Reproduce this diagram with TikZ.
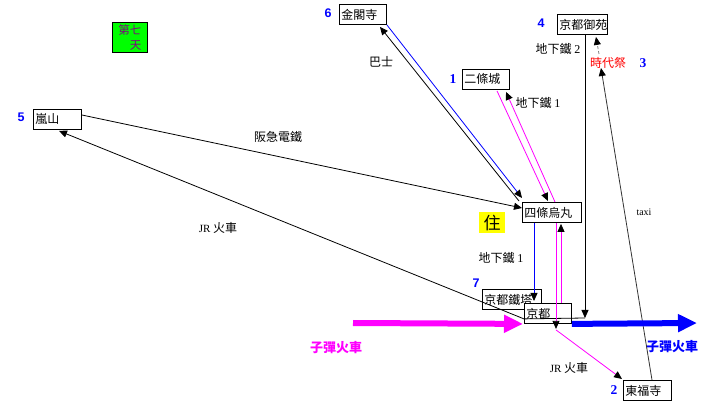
\documentclass[tikz,border=0pt]{standalone}
\usepackage{fontspec}
\setmainfont{Liberation Serif}
\newfontfamily\cjk{Noto Sans CJK TC}
\newfontfamily\numsans{Liberation Sans}
\usetikzlibrary{arrows.meta,calc}
\definecolor{mag}{RGB}{255,0,255}
\definecolor{pureblue}{RGB}{0,0,255}
\definecolor{puregreen}{RGB}{0,255,0}
\definecolor{purp}{RGB}{128,0,128}
\definecolor{pyellow}{RGB}{255,255,0}
\begin{document}
\begin{tikzpicture}[x=1pt,y=-1pt,
  box/.style={draw=black,fill=white,line width=0.9pt,anchor=north west,inner xsep=2pt,inner ysep=0pt,minimum height=20pt,align=left,font=\cjk\fontsize{12}{14}\selectfont},
  lbl/.style={font=\cjk\fontsize{12}{14}\selectfont,inner sep=0pt},
  numS/.style={text=pureblue,font=\numsans\bfseries\fontsize{12.5}{14}\selectfont,inner sep=0pt},
  numR/.style={text=pureblue,font=\rmfamily\bfseries\fontsize{13.5}{14}\selectfont,inner sep=0pt},
  arr/.style={line width=0.8pt,-{Triangle[length=8pt,width=7pt,color=black]}},
  bigarr/.style={line width=6pt,-{Triangle[length=19pt,width=17pt]}},
]
\useasboundingbox (0,0) rectangle (705,406);

% boxes
\node[box,text width=43pt] (kinkaku) at (339,4) {金閣寺};
\node[box,text width=46pt] (gyoen) at (557,14) {京都御苑};
\node[box,text width=43pt] (nijo) at (462,69) {二條城};
\node[box,text width=44pt] (arashi) at (33,109) {嵐山};
\node[box,text width=55pt] (shijo) at (522,202) {四條烏丸};
\node[box,text width=55pt] (tower) at (482,289) {京都鐵塔};
\node[box,text width=43pt] (kyoto) at (524,303) {京都};
\node[box,text width=44pt] (tofuku) at (623,380) {東福寺};
\node[draw=black,fill=puregreen,line width=0.9pt,anchor=north west,minimum width=35pt,minimum height=30pt,inner xsep=6pt,inner ysep=0pt,text width=23pt,align=right,text=purp,font=\cjk\fontsize{11.5}{15}\selectfont] (seventh) at (112,22) {第七\\天};
\node[fill=pyellow,anchor=north west,minimum width=26pt,minimum height=21pt,inner sep=0pt,font=\cjk\fontsize{17}{18}\selectfont] (home) at (479,212) {住};

% numbers
\node[numS] (n6) at (328,13) {6};
\node[numS] (n4) at (541,23) {4};
\node[numR] (n1) at (453,79) {1};
\node[numR] (n3) at (643,63) {3};
\node[numS] (n5) at (21,117) {5};
\node[numS] (n7) at (476,283) {7};
\node[numR] (n2) at (614,390) {2};

% labels
\node[lbl] (bus) at (381,62) {巴士};
\node[lbl] (sub2) at (558,49) {地下鐵 \rmfamily 2};
\node[lbl,text=red] (jidai) at (608,63) {時代祭};
\node[lbl] (sub1a) at (538,103) {地下鐵 \rmfamily 1};
\node[lbl] (hankyu) at (278,137) {阪急電鐵};
\node[lbl] (jra) at (218,228) {{\rmfamily\fontsize{11}{12}\selectfont JR} 火車};
\node[lbl] (sub1b) at (501,258) {地下鐵 \rmfamily 1};
\node[lbl,text=mag,font=\cjk\bfseries\fontsize{13}{14}\selectfont] (bulletL) at (336,348) {子彈火車};
\node[lbl,text=pureblue,font=\cjk\bfseries\fontsize{13}{14}\selectfont] (bulletR) at (672,347) {子彈火車};
\node[lbl] (jrb) at (569,368) {{\rmfamily\fontsize{11}{12}\selectfont JR} 火車};
\node[inner sep=0pt,font=\rmfamily\fontsize{10}{12}\selectfont] (taxi) at (644,212) {taxi};

% free ends
\coordinate (magstart) at (353,323);
\coordinate (blueend) at (697,323);
\coordinate (jct) at (585,318);

% connectors
\draw[arr,black] ($(shijo.north west)+(-3,-1)$) -- ($(kinkaku.south west)+(41,2)$);
\draw[arr,pureblue] (kinkaku.south east) -- ($(shijo.north west)+(0,-4)$);
\draw[arr,mag] ($(nijo.south west)+(35,1)$) -- ($(shijo.north west)+(26,-1)$);
\draw[arr,mag] ($(shijo.north west)+(33,0)$) -- ($(nijo.south west)+(44,2)$);
\draw[arr,black] ($(arashi.north east)+(0,6)$) -- ($(shijo.north west)+(0,6)$);
\draw[arr,black] ($(gyoen.south west)+(28,0)$) -- (jct);
\draw[arr,black] (jct) -- ($(kyoto.south west)+(0,-5)$) -- ($(arashi.south west)+(26,1)$);
\draw[arr,gray,dashed,dash pattern=on 3pt off 2pt] ($(jidai.center)+(-9,-9)$) -- ($(gyoen.south west)+(39,2)$);
\draw[arr,black!80] ($(tofuku.north west)+(29,0)$) -- ($(jidai.center)+(-7,5)$);
\draw[arr,pureblue] ($(shijo.south west)+(12,0)$) -- ($(kyoto.north west)+(10,-2)$);
\draw[arr,mag] ($(shijo.south west)+(34,0)$) -- ($(kyoto.south west)+(32,5)$);
\draw[arr,mag] ($(kyoto.north west)+(37,0)$) -- ($(shijo.south west)+(39,1)$);
\draw[arr,mag] ($(kyoto.south west)+(32,6)$) -- ($(tofuku.north west)+(-1,-1)$);
\draw[bigarr,mag] (magstart) -- ($(kyoto.south west)+(-1,0)$);
\draw[bigarr,pureblue] (kyoto.south east) -- (blueend);
\end{tikzpicture}
\end{document}
